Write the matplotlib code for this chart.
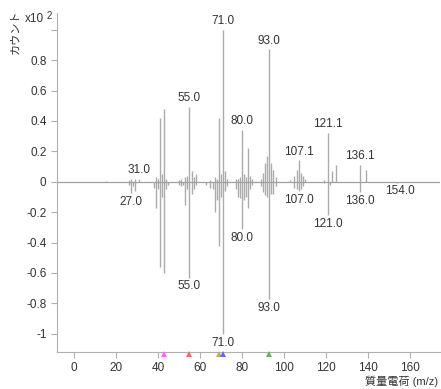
import matplotlib
matplotlib.use("Agg")
import matplotlib.pyplot as plt
import matplotlib.transforms as mtransforms

plt.rcParams['font.family'] = ['Liberation Sans', 'Noto Sans CJK JP']

# Upper spectrum (m/z, relative intensity x10^2)
top_mz = [15, 26, 27, 29, 31, 39, 40, 41, 42, 43, 44, 50, 51, 53, 54, 55, 56, 57, 58,
          65, 67, 68, 69, 70, 71, 72, 73, 77, 78, 79, 80, 81, 82, 83, 84, 85,
          89, 90, 91, 92, 93, 94, 95, 96, 103, 105, 106, 107, 108, 109, 110,
          119, 121, 123, 125, 136, 139]
top_int = [0.005, 0.01, 0.02, 0.02, 0.02, 0.03, 0.02, 0.42, 0.05, 0.48, 0.02, 0.01, 0.02, 0.03, 0.04, 0.49, 0.07, 0.03, 0.05,
           0.01, 0.03, 0.02, 0.42, 0.05, 1.0, 0.07, 0.02, 0.02, 0.02, 0.03, 0.34, 0.05, 0.03, 0.22, 0.04, 0.02,
           0.02, 0.06, 0.12, 0.17, 0.87, 0.12, 0.08, 0.03, 0.01, 0.04, 0.08, 0.14, 0.06, 0.04, 0.02,
           0.01, 0.32, 0.07, 0.11, 0.11, 0.075]

# Lower (reference) spectrum, drawn downward
bot_mz = [26, 27, 28, 29, 38, 39, 40, 41, 42, 43, 44, 45, 50, 51, 52, 53, 54, 55, 56, 57, 58,
          63, 65, 66, 67, 68, 69, 70, 71, 72, 73, 77, 78, 79, 80, 81, 82, 83, 84, 85,
          89, 90, 91, 92, 93, 94, 95, 96, 105, 106, 107, 108, 109, 119, 121, 122, 136, 154]
bot_int = [0.02, 0.075, 0.03, 0.06, 0.04, 0.17, 0.05, 0.56, 0.1, 0.6, 0.05, 0.02, 0.02, 0.03, 0.02, 0.15, 0.05, 0.63, 0.08, 0.05, 0.02,
           0.02, 0.04, 0.05, 0.2, 0.12, 0.42, 0.1, 1.0, 0.06, 0.03, 0.05, 0.1, 0.11, 0.31, 0.12, 0.1, 0.17, 0.05, 0.02,
           0.03, 0.07, 0.09, 0.1, 0.77, 0.08, 0.08, 0.03, 0.04, 0.05, 0.06, 0.05, 0.03, 0.01, 0.22, 0.02, 0.07, 0.005]

top_labels = [(31, 0.02, "31.0"), (55, 0.49, "55.0"), (71, 1.0, "71.0"), (80, 0.34, "80.0"),
              (93, 0.87, "93.0"), (107, 0.14, "107.1"), (121, 0.32, "121.1"), (136, 0.11, "136.1")]
bot_labels = [(27, 0.075, "27.0"), (55, 0.63, "55.0"), (71, 1.0, "71.0"), (80, 0.31, "80.0"),
              (93, 0.77, "93.0"), (107, 0.06, "107.0"), (121, 0.22, "121.0"), (136, 0.07, "136.0"),
              (155, 0.005, "154.0")]

marker_mz = [43, 55, 69, 71, 93]
marker_colors = ["#ff66ff", "#ff6666", "#b8b060", "#6666ff", "#66b066"]

x_ticks = [0, 20, 40, 60, 80, 100, 120, 140, 160]
y_ticks = [1.0, 0.8, 0.6, 0.4, 0.2, 0, -0.2, -0.4, -0.6, -0.8, -1.0]
y_ticklabels = ["", "0.8", "0.6", "0.4", "0.2", "0", "-0.2", "-0.4", "-0.6", "-0.8", "-1"]

fig = plt.figure(figsize=(4.41, 3.89), dpi=100)
ax = fig.add_axes([57/441, 1-352/389, (440-57)/441, (352-13)/389])

peak_color = "#ababab"
ax.vlines(top_mz, 0, top_int, color=peak_color, lw=1.0)
ax.vlines(bot_mz, 0, [-v for v in bot_int], color=peak_color, lw=1.0)
ax.axhline(0, color="#a0a0a0", lw=0.9)

ax.set_xlim(-8.1, 174.3)
ax.set_ylim(-1.12, 1.11)

lab_kw = dict(fontsize=8.5, color="#333333", ha="center")
for mz, v, t in top_labels:
    ax.annotate(t, (mz, v), xytext=(0, 2), textcoords="offset points", va="bottom", **lab_kw)
for mz, v, t in bot_labels:
    ax.annotate(t, (mz, -v), xytext=(0, -2), textcoords="offset points", va="top", **lab_kw)

trans = mtransforms.blended_transform_factory(ax.transData, ax.transAxes)
for mz, c in zip(marker_mz, marker_colors):
    ax.plot(mz, -0.006, marker="^", color=c, markersize=5, transform=trans, clip_on=False,
            markeredgewidth=0, zorder=5)

for s in ["top", "right"]:
    ax.spines[s].set_visible(False)
for s in ["left", "bottom"]:
    ax.spines[s].set_color("#b0b0b0")
ax.set_xticks(x_ticks)
ax.set_yticks(y_ticks)
ax.set_yticklabels(y_ticklabels)
ax.tick_params(axis="both", colors="#b0b0b0", labelcolor="#333333", labelsize=8.5, length=4, width=0.8)
ax.tick_params(axis="x", pad=3)

fig.text(44/441, 1-19/389, "x10", fontsize=8.5, color="#333333", ha="right", va="center")
fig.text(47/441, 1-16/389, "2", fontsize=7, color="#333333", ha="left", va="center")
fig.text(15/441, 1-32/389, "カウント", fontsize=8, color="#333333", rotation=90, ha="center", va="center")
fig.text(438/441, 1-381/389, "質量電荷 (m/z)", fontsize=8, color="#333333", ha="right", va="center")

fig.savefig("out.png", dpi=100)
